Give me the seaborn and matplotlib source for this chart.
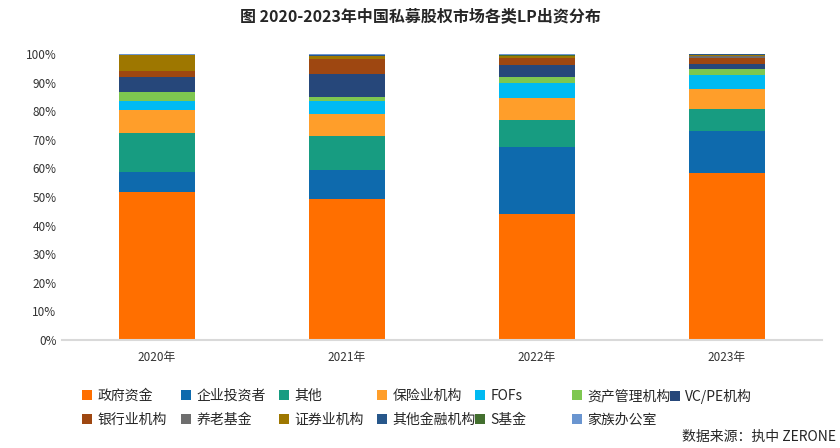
import matplotlib
matplotlib.use("Agg")
import matplotlib.pyplot as plt
from matplotlib.patches import Patch
from matplotlib.ticker import PercentFormatter
import numpy as np
import seaborn as sns

sns.set_style("white")
plt.rcParams['font.family'] = ['Noto Sans CJK SC', 'DejaVu Sans']

years = ['2020年', '2021年', '2022年', '2023年']

# share of each LP type per year, in percent
gov        = [51.7, 49.2, 44.0, 58.4]   # 政府资金
corporate  = [7.0, 10.1, 23.4, 14.7]    # 企业投资者
other      = [13.6, 11.9, 9.4, 7.7]     # 其他
insurance  = [8.0, 7.7, 7.7, 7.0]       # 保险业机构
fofs       = [3.3, 4.5, 5.2, 4.9]       # FOFs
asset_mgmt = [3.0, 1.4, 2.4, 2.1]       # 资产管理机构
vcpe       = [5.2, 8.3, 4.2, 1.7]       # VC/PE机构
bank       = [2.1, 5.0, 2.4, 2.0]       # 银行业机构
pension    = [0.0, 0.0, 0.0, 0.8]       # 养老基金
securities = [5.6, 1.2, 0.7, 0.3]       # 证券业机构
other_fin  = [0.0, 0.4, 0.0, 0.3]       # 其他金融机构
s_fund     = [0.0, 0.0, 0.4, 0.0]       # S基金
family     = [0.5, 0.3, 0.2, 0.1]       # 家族办公室

labels = ['政府资金', '企业投资者', '其他', '保险业机构', 'FOFs', '资产管理机构', 'VC/PE机构',
          '银行业机构', '养老基金', '证券业机构', '其他金融机构', 'S基金', '家族办公室']
series = [gov, corporate, other, insurance, fofs, asset_mgmt, vcpe,
          bank, pension, securities, other_fin, s_fund, family]
colors = ['#FF6F00', '#0E6AAD', '#179C81', '#FF9E2A', '#00BAF2', '#7EC750', '#26477A',
          '#9E4711', '#6E6E6E', '#9E7700', '#27578B', '#436F2F', '#6A95D0']

fig = plt.figure(figsize=(8.4, 4.48), dpi=100)
ax = fig.add_axes([62 / 840, 1 - 340 / 448, 760 / 840, 286 / 448])

# stacked bars: draw cumulative totals from the top layer down
cum = np.cumsum(np.array(series), axis=0) / 100.0
for k in range(len(series) - 1, -1, -1):
    sns.barplot(x=years, y=cum[k], color=colors[k], width=0.4,
                saturation=1, linewidth=0, ax=ax)

ax.set_xlim(-0.5, 3.5)
ax.set_ylim(0, 1.0)
ax.set_yticks(np.arange(0, 1.01, 0.1))
ax.yaxis.set_major_formatter(PercentFormatter(1.0, decimals=0))
ax.set_xlabel('')
ax.set_ylabel('')
ax.tick_params(axis='both', length=0, labelsize=8.5, colors='#333333')
ax.tick_params(axis='y', pad=4)
ax.tick_params(axis='x', pad=8)
for side in ['top', 'right', 'left']:
    ax.spines[side].set_visible(False)
ax.spines['bottom'].set_color('#D9D9D9')
ax.spines['bottom'].set_linewidth(1.5)

fig.text(0.5, 1 - 16 / 448, '图 2020-2023年中国私募股权市场各类LP出资分布',
         ha='center', va='center', fontsize=11.5, fontweight='bold')

# legend laid out in 7 even columns, two rows
col_x = [82, 181, 279, 377, 475, 572, 670]
for i in range(7):
    idx = [i] + ([i + 7] if i + 7 < len(labels) else [])
    handles = [Patch(facecolor=colors[j], edgecolor='none', label=labels[j]) for j in idx]
    fig.legend(handles=handles, loc='upper left',
               bbox_to_anchor=(col_x[i] / 840, 1 - 389 / 448),
               frameon=False, fontsize=10, handlelength=0.7, handleheight=0.7,
               handletextpad=0.4, labelspacing=0.7, borderpad=0, borderaxespad=0)

fig.text(836 / 840, 1 - 437 / 448, '数据来源：执中 ZERONE', ha='right', va='center',
         fontsize=10)

fig.savefig('out.png', dpi=100)
